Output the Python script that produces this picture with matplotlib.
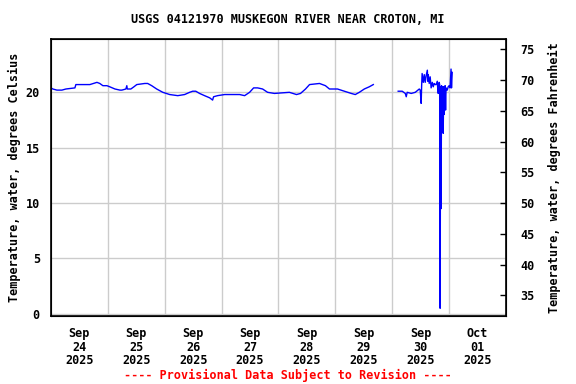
import numpy as np
import pandas as pd
import matplotlib
matplotlib.use("Agg")
import matplotlib.pyplot as plt

# hours since 2025-09-24 00:00 and water temperature (deg C)
hours_a = [0, 0.8, 2.5, 4.6, 6.3, 10.1, 10.5, 16.4, 19.4, 20.6, 21.9, 23.6,
           24.8, 27.0, 29.1, 29.9, 31.6, 32.0, 32.2, 33.7, 35.0, 36.2, 39.6,
           40.8, 42.5, 44.6, 47.2, 50.1, 53.5, 56.4, 58.5, 59.8, 61.1, 62.7,
           64.8, 67.0, 68.2, 68.6, 70.3, 73.3, 79.6, 81.7, 83.8, 85.5, 87.2,
           89.3, 91.4, 94.3, 100.6, 103.6, 105.3, 107.4, 109.1, 113.3, 115.8,
           117.5, 120.9, 123.8, 126.7, 128.4, 130.1, 132.2, 134.3, 136.0]
temp_a = [20.4, 20.3, 20.2, 20.2, 20.3, 20.4, 20.7, 20.7, 20.9, 20.8, 20.6, 20.6,
          20.5, 20.3, 20.2, 20.2, 20.3, 20.6, 20.3, 20.3, 20.5, 20.7, 20.8,
          20.8, 20.6, 20.3, 20.0, 19.8, 19.7, 19.8, 20.0, 20.1, 20.1, 19.9,
          19.7, 19.5, 19.3, 19.6, 19.7, 19.8, 19.8, 19.7, 20.0, 20.4, 20.4,
          20.3, 20.0, 19.9, 20.0, 19.8, 19.9, 20.3, 20.7, 20.8, 20.6,
          20.3, 20.3, 20.1, 19.9, 19.8, 20.0, 20.3, 20.5, 20.7]

hours_b = [146.5, 148.2, 149.5, 149.9, 150.3, 152.0, 153.7, 155.4, 155.8, 156.2,
           156.4, 156.6, 157.1, 157.5, 157.9, 158.3, 158.8, 159.0, 159.2, 159.6,
           160.0, 160.4, 160.9, 161.3, 161.7, 162.1, 162.5, 163.0, 163.2, 163.4,
           163.8, 164.0, 164.2, 164.4, 164.6, 164.8, 165.1, 165.3, 165.5, 165.7,
           165.9, 166.3, 166.5, 166.7, 167.2, 167.6, 168.0, 168.4, 168.8, 169.0,
           169.3]
temp_b = [20.1, 20.1, 19.9, 19.6, 20.0, 19.9, 20.0, 20.3, 20.2, 19.0,
          20.6, 21.7, 20.9, 21.6, 20.9, 21.5, 22.0, 21.0, 21.6, 20.8,
          21.4, 20.4, 20.9, 20.5, 20.8, 20.7, 20.7, 21.0, 20.3, 19.9,
          20.9, 20.7, 0.5, 20.5, 9.5, 20.6, 17.5, 20.5, 16.3, 20.5,
          18.0, 20.6, 18.4, 20.4, 20.2, 20.5, 20.6, 20.4, 22.1, 20.4,
          21.8]

day_labels = ["Sep\n24\n2025", "Sep\n25\n2025", "Sep\n26\n2025", "Sep\n27\n2025",
              "Sep\n28\n2025", "Sep\n29\n2025", "Sep\n30\n2025", "Oct\n01\n2025"]

start = pd.Timestamp("2025-09-24")
# gap in the record between the two segments
hours = hours_a + [140.0] + hours_b
temps = temp_a + [np.nan] + temp_b
t = [start + pd.Timedelta(hours=h) for h in hours]

font = dict(family="DejaVu Sans Mono", weight="bold", size=8.5)

fig = plt.figure(figsize=(5.76, 3.84), dpi=100)
ax = fig.add_axes([0.0885, 0.177, 0.79, 0.721])
ax.plot(t, temps, color="#0000ff", lw=1.0)

ax.set_xlim(start, start + pd.Timedelta(days=8))
ax.set_ylim(-0.2, 24.8)
ax.set_yticks([0, 5, 10, 15, 20])

noons = [start + pd.Timedelta(hours=12 + 24 * i) for i in range(8)]
mids = [start + pd.Timedelta(days=i) for i in range(1, 8)]
ax.set_xticks(noons)
ax.set_xticklabels(day_labels, **font, linespacing=1.05)
ax.set_xticks(mids, minor=True)
ax.tick_params(axis="x", which="both", length=0, pad=8)
ax.tick_params(axis="y", length=0, pad=8)
for lab in ax.get_yticklabels():
    lab.set_fontfamily("DejaVu Sans Mono")
    lab.set_fontweight("bold")
    lab.set_fontsize(8.5)
ax.grid(True, which="minor", axis="x", color="#cccccc", lw=1)
ax.grid(True, which="major", axis="y", color="#cccccc", lw=1)
ax.set_axisbelow(True)
for s in ax.spines.values():
    s.set_linewidth(1.2)
ax.set_ylabel("Temperature, water, degrees Celsius", **font, labelpad=3)

ax2 = ax.twinx()
ax2.set_ylim(-0.2 * 9 / 5 + 32, 24.8 * 9 / 5 + 32)
ax2.set_yticks([35, 40, 45, 50, 55, 60, 65, 70, 75])
ax2.tick_params(axis="y", direction="in", length=4, width=1, pad=10)
for lab in ax2.get_yticklabels():
    lab.set_fontfamily("DejaVu Sans Mono")
    lab.set_fontweight("bold")
    lab.set_fontsize(8.5)
ax2.set_ylabel("Temperature, water, degrees Fahrenheit", **font, labelpad=10)

fig.text(0.5, 0.95, "USGS 04121970 MUSKEGON RIVER NEAR CROTON, MI",
         ha="center", va="center", **font)
fig.text(0.5, 0.023, "---- Provisional Data Subject to Revision ----",
         ha="center", va="center", color="red", **font)

fig.savefig("out.png", dpi=100)
